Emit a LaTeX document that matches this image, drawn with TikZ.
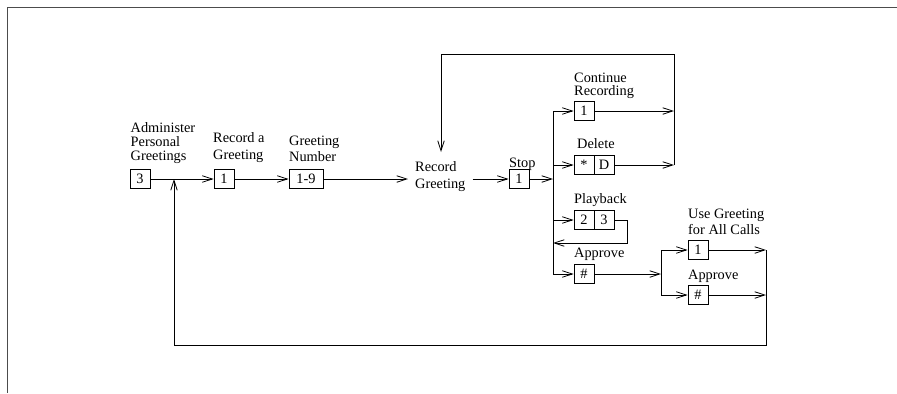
\documentclass[tikz,border=0pt]{standalone}
\usepackage{fontspec}
\setmainfont{Liberation Serif}
\usetikzlibrary{arrows.meta}
\begin{document}
\begin{tikzpicture}[x=1bp,y=-1bp,
  every node/.style={font=\fontsize{14.4}{14}\selectfont, inner sep=0pt},
  key/.style={draw, line width=0.8bp, minimum width=20bp, minimum height=19bp},
  widekey/.style={key, minimum width=34bp},
  lbl/.style={anchor=north west, align=left},
  lblw/.style={lbl, font=\fontsize{14.4}{16.7}\selectfont},
  conn/.style={line width=0.8bp},
  arr/.style={conn, -{Straight Barb[length=10bp,width=6.5bp]}},
  frameline/.style={line width=0.9bp, black!70}
]
\useasboundingbox (0,0) rectangle (897,393);
\draw[frameline] (897,7) -- (7,7) -- (7,393);

% main row
\node[key] (b3) at (140,179) {3};
\node[key] (r1) at (224,179) {1};
\node[widekey] (gn) at (306,179) {1-9};
\node[lblw, inner xsep=7bp] (rg) at (408,161.5) {Record\\Greeting};
\node[key] (stop) at (519,179) {1};

% branch boxes
\node[key] (c1) at (584,111) {1};
\node[key] (del1) at (584,165) {*};
\node[key] (del2) at (604,165) {D};
\node[key] (pb1) at (584,220) {2};
\node[key] (pb2) at (604,220) {3};
\node[key] (ap) at (584,274) {\#};
\node[key] (u1) at (698,250) {1};
\node[key] (u2) at (698,295) {\#};

% labels
\node[lbl] (l1) at (130.5,122.5) {Administer\\Personal\\Greetings};
\node[lblw] (l2) at (213,132.3) {Record a\\Greeting};
\node[lblw, font=\fontsize{14.4}{16}\selectfont] (l3) at (289,135.5) {Greeting\\Number};
\node[lbl] (l4) at (509,157.5) {Stop};
\node[lbl] (l5) at (574,72.3) {Continue\\Recording};
\node[lbl] (l6) at (577,138.3) {Delete};
\node[lbl] (l7) at (574,193.3) {Playback};
\node[lbl] (l8) at (574,248.3) {Approve};
\node[lbl, font=\fontsize{14.4}{17}\selectfont] (l9) at (688,208.3) {Use Greeting\\for All Calls};
\node[lbl] (l10) at (688,270) {Approve};

% junction coordinates
\coordinate (bx) at (553,179);
\coordinate (mx) at (674,54);
\coordinate (rgin) at (441,152);
\coordinate (pbr) at (627,243);
\coordinate (ax) at (661,274);
\coordinate (ex) at (766,345);
\coordinate (upin) at (174,179);

% main flow
\draw[arr] (b3) -- (r1);
\draw[arr] (r1) -- (gn);
\draw[arr] (gn) -- (gn -| rg.west);
\draw[arr] (rg.east |- stop) -- (stop);
\draw[arr] (stop) -- (bx);

% branches
\draw[conn] (bx |- c1) -- (bx |- ap);
\draw[arr] (bx |- c1) -- (c1);
\draw[arr] (bx |- del1) -- (del1);
\draw[arr] (bx |- pb1) -- (pb1);
\draw[arr] (bx |- ap) -- (ap);

% continue / delete loop back
\draw[arr] (c1) -- (c1 -| mx);
\draw[arr] (del2) -- (del2 -| mx);
\draw[arr] (del2 -| mx) -- (mx) -| (rgin);

% playback loop
\draw[arr] (pb2) -| (pbr) -- (pbr -| bx);

% approve
\draw[arr] (ap) -- (ax);
\draw[conn] (ax |- u1) -- (ax |- u2);
\draw[arr] (ax |- u1) -- (u1);
\draw[arr] (ax |- u2) -- (u2);
\draw[arr] (u1) -- (u1 -| ex);
\draw[arr] (u2) -- (u2 -| ex);
\draw[arr] (u1 -| ex) -- (ex) -| (upin);
\end{tikzpicture}
\end{document}
